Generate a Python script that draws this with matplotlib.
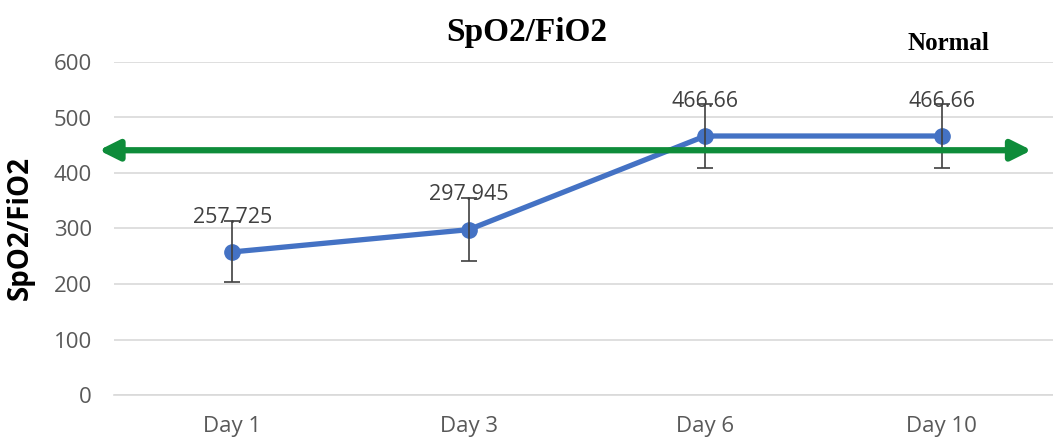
import matplotlib.pyplot as plt
import numpy as np

# chart data
days = ["Day 1", "Day 3", "Day 6", "Day 10"]
ratio = [257.725, 297.945, 466.66, 466.66]
ratio_err = [55, 57, 57, 57]
normal_level = 441
y_ticks = [0, 100, 200, 300, 400, 500, 600]

fig = plt.figure(figsize=(10.53, 4.44), dpi=100)
ax = fig.add_axes([114 / 1053, 1 - 395 / 444, 946 / 1053, 333 / 444])

x = np.arange(len(days))

ax.errorbar(x, ratio, yerr=ratio_err, fmt="none", ecolor="#404040",
            elinewidth=1.2, capsize=6, capthick=1.2, zorder=4)
ax.plot(x, ratio, color="#4472C4", linewidth=3.8, marker="o",
        markersize=11, zorder=3)

for xi, v in zip(x, ratio):
    ax.annotate(f"{v:g}", (xi, v), xytext=(0, 25), textcoords="offset points",
                ha="center", va="center", fontsize=15.5, color="#404040",
                family="Open Sans", zorder=2)

# normal range arrow
ax.annotate("", xy=(0.97, normal_level), xytext=(-0.016, normal_level),
            xycoords=("axes fraction", "data"), textcoords=("axes fraction", "data"),
            arrowprops=dict(arrowstyle="<|-|>,head_length=1.2,head_width=0.6",
                            color="#0E8C3A", lw=4.5, shrinkA=0, shrinkB=0),
            annotation_clip=False, zorder=5)

ax.set_xlim(-0.5, 3.5)
ax.set_ylim(0, 600)
ax.set_xticks(x)
ax.set_xticklabels(days)
ax.set_yticks(y_ticks)
ax.grid(axis="y", color="#D9D9D9", linewidth=1.2)
ax.set_axisbelow(True)
for s in ["top", "right", "left"]:
    ax.spines[s].set_visible(False)
ax.spines["bottom"].set_color("#D9D9D9")
ax.spines["bottom"].set_linewidth(1.2)
ax.tick_params(length=0, labelsize=16, labelcolor="#595959")
ax.tick_params(axis="y", pad=16)
ax.tick_params(axis="x", pad=15)
for lab in ax.get_xticklabels() + ax.get_yticklabels():
    lab.set_family("Open Sans")

ax.set_ylabel("SpO2/FiO2", fontsize=20, fontweight="bold", family="Open Sans")
ax.yaxis.set_label_coords(-0.0835, 0.5)

fig.text(527 / 1053, 1 - 33 / 444, "SpO2/FiO2", ha="center", va="center",
         fontsize=24, fontweight="bold", family="Liberation Serif")
fig.text(948 / 1053, 1 - 43 / 444, "Normal", ha="center", va="center",
         fontsize=18, fontweight="bold", family="Liberation Serif")

fig.savefig("out.png", dpi=100)
